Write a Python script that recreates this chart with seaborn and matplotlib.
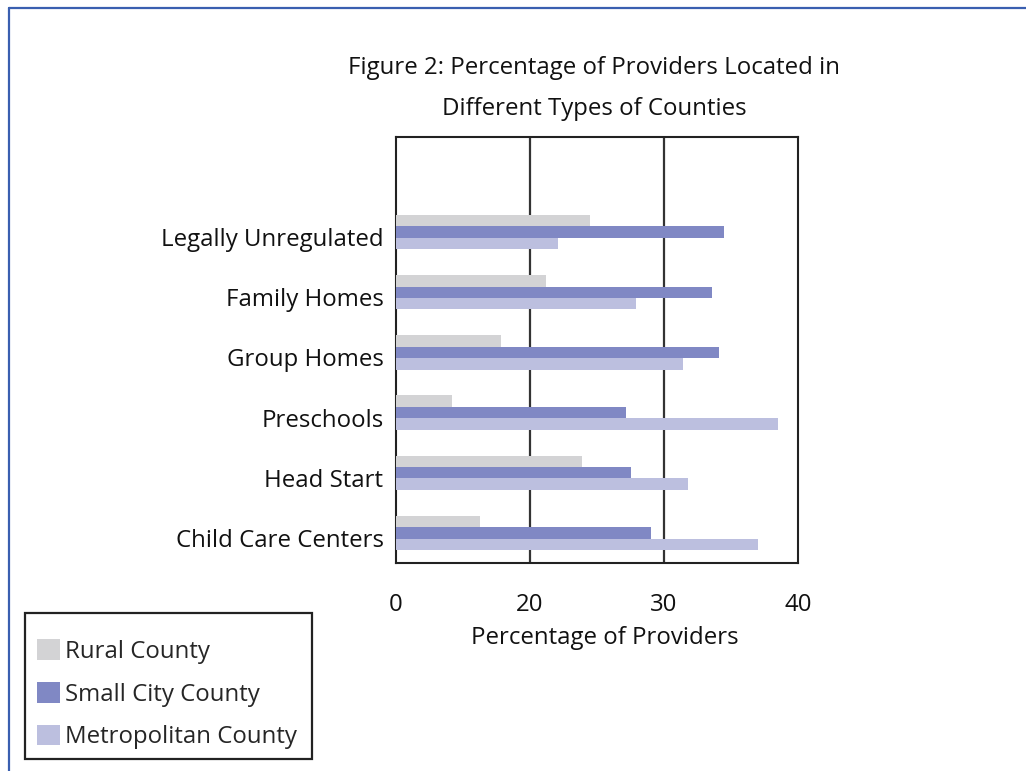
import numpy as np
import pandas as pd
import matplotlib
matplotlib.use("Agg")
import matplotlib.pyplot as plt
import matplotlib.transforms as mtransforms
import seaborn as sns
from matplotlib.lines import Line2D
from matplotlib.patches import Patch, Rectangle

categories = ["Legally Unregulated", "Family Homes", "Group Homes",
              "Preschools", "Head Start", "Child Care Centers"]
series = ["Rural County", "Small City County", "Metropolitan County"]
rural = [14.5, 11.2, 7.8, 4.2, 13.9, 6.3]
small_city = [24.5, 23.6, 24.1, 17.2, 17.5, 19.0]
metro = [12.1, 17.9, 21.4, 28.5, 21.8, 27.0]
x_tick_values = [0, 10, 20, 30]
x_tick_labels = ["0", "20", "30", "40"]
colors = ["#d3d3d5", "#8088c4", "#bcbfdf"]

sns.set_theme(style="white")
plt.rcParams["font.family"] = ["Open Sans", "DejaVu Sans"]

df = pd.DataFrame({
    "Category": categories * 3,
    "County": [s for s in series for _ in categories],
    "Value": rural + small_city + metro,
})

FS = 17.3
W, H = 1026, 771
fig = plt.figure(figsize=(W / 100, H / 100), dpi=100)
ax = fig.add_axes([396 / W, 1 - 563 / H, 402 / W, 426 / H])

sns.barplot(data=df, y="Category", x="Value", hue="County", order=categories,
            hue_order=series, palette=colors, orient="h", width=0.57,
            saturation=1, legend=False, ax=ax, linewidth=0, zorder=3)

ytop = -1.58
ax.set_xlim(0, 30)
ax.set_ylim(5.5, ytop)
ax.set_xlabel("Percentage of Providers", fontsize=FS, labelpad=12, color="#111")
ax.xaxis.set_label_coords((605 - 396) / 402, -(638 - 563) / 426, transform=ax.transAxes)
ax.xaxis.label.set_va("center")
ax.set_ylabel("")

# x ticks & grid
ax.set_xticks(x_tick_values)
ax.set_xticklabels(x_tick_labels, fontsize=FS, color="#111")
ax.tick_params(axis="x", direction="out", length=12.5, width=1.5, color="#222", pad=9)
for v in x_tick_values[1:-1]:
    ax.axvline(v, color="#333333", lw=1.6, zorder=1)

# y ticks: boundaries (major, unlabeled) and category centres (minor, labeled)
ax.set_yticks([ytop] + list(np.arange(-0.5, 6.0, 1.0)))
ax.set_yticklabels([])
ax.tick_params(axis="y", which="major", direction="out", length=21, width=1.5, color="#222")
ax.set_yticks(np.arange(len(categories)), minor=True)
ax.set_yticklabels(categories, minor=True, fontsize=FS, color="#111")
ax.tick_params(axis="y", which="minor", length=0, pad=9)
offset = mtransforms.ScaledTranslation(0, -5 / 100, fig.dpi_scale_trans)
for lab in ax.get_yticklabels(minor=True):
    lab.set_transform(lab.get_transform() + offset)

for s in ax.spines.values():
    s.set_visible(True)
    s.set_linewidth(1.5)
    s.set_color("#222")

# Title
fig.text(594 / W, 1 - 68 / H, "Figure 2: Percentage of Providers Located in",
         ha="center", va="center", fontsize=FS, color="#111")
fig.text(594 / W, 1 - 109 / H, "Different Types of Counties",
         ha="center", va="center", fontsize=FS, color="#111")

# Legend (frame drawn separately)
handles = [Patch(facecolor=c, edgecolor="none") for c in colors]
leg = fig.legend(handles, series, loc="upper left",
                 bbox_to_anchor=(37 / W, 1 - 639 / H), frameon=False,
                 fontsize=FS, handlelength=0.95, handleheight=0.95, handletextpad=0.2,
                 labelspacing=0.76, borderpad=0, borderaxespad=0)
fig.add_artist(Rectangle((25 / W, 1 - 759 / H), (312 - 25) / W, (759 - 613) / H,
                         transform=fig.transFigure, fill=False,
                         edgecolor="#222", lw=1.6))

# page border
fig.add_artist(Line2D([9 / W, 9 / W], [0, 1 - 8 / H], transform=fig.transFigure,
                      color="#3a5fb0", lw=1.6))
fig.add_artist(Line2D([9 / W, 1], [1 - 8 / H, 1 - 8 / H], transform=fig.transFigure,
                      color="#3a5fb0", lw=1.6))

fig.savefig("out.png", dpi=100)
